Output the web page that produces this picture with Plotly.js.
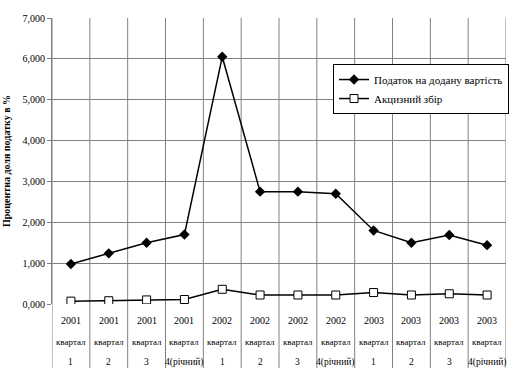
<!DOCTYPE html>
<html>
<head>
<meta charset="utf-8">
<script src="https://cdn.plot.ly/plotly-3.0.1.min.js"></script>
<style>html,body{margin:0;padding:0;background:#fff}#chart{width:524px;height:381px}</style>
</head>
<body>
<div id="chart"></div>
<script>
const years = ["2001","2001","2001","2001","2002","2002","2002","2002","2003","2003","2003","2003"];
const quarterWord = "квартал";
const quarters = ["1","2","3","4(річний)","1","2","3","4(річний)","1","2","3","4(річний)"];
const vat = [0.98, 1.24, 1.50, 1.70, 6.05, 2.75, 2.75, 2.70, 1.80, 1.50, 1.69, 1.44];
const excise = [0.07, 0.08, 0.10, 0.11, 0.36, 0.22, 0.22, 0.22, 0.28, 0.22, 0.25, 0.22];
const seriesNames = ["Податок на додану вартість", "Акцизний збір"];
const yTitle = "Процентна доля податку в %";

const idx = years.map((_, i) => i);
const font = "Times New Roman";
const plotH = 286;
const py = px => -px / plotH;

const traces = [
  {x: idx, y: vat, name: seriesNames[0], type: "scatter", mode: "lines+markers",
   line: {color: "#000", width: 1.5},
   marker: {symbol: "diamond", size: 8, color: "#000"}},
  {x: idx, y: excise, name: seriesNames[1], type: "scatter", mode: "lines+markers",
   line: {color: "#000", width: 1.5},
   marker: {symbol: "square", size: 8, color: "#fff", line: {color: "#000", width: 1}}}
];

const shapes = [];
for (let i = 0; i <= years.length; i++) {
  shapes.push({type: "line", xref: "x", yref: "paper", x0: i - 0.5, x1: i - 0.5,
    y0: py(64), y1: 1, line: {color: "#808080", width: 1}, layer: "below"});
}
const annotations = [];
idx.forEach(i => {
  [[years[i], 16, 10], [quarterWord, 38, 9], [quarters[i], 58, 9.5]].forEach(([t, off, sz]) => {
    annotations.push({x: i, xref: "x", yref: "paper", y: py(off), yanchor: "middle",
      text: t, showarrow: false, font: {family: font, size: sz}});
  });
});

const layout = {
  width: 524, height: 381,
  margin: {l: 52, r: 18, t: 18, b: 77},
  paper_bgcolor: "#fff", plot_bgcolor: "#fff",
  separators: ", ",
  font: {family: font, size: 10, color: "#000"},
  showlegend: true,
  legend: {x: 0.619, y: 0.839, xanchor: "left", yanchor: "top",
    bgcolor: "#fff", bordercolor: "#000", borderwidth: 1, itemwidth: 30,
    font: {family: font, size: 11}, tracegroupgap: 0},
  xaxis: {range: [-0.5, 11.5], showgrid: false, zeroline: false, showticklabels: false,
    showline: false, fixedrange: true},
  yaxis: {range: [0, 7], dtick: 1, tick0: 0, tickformat: ".3f",
    showgrid: true, gridcolor: "#808080", gridwidth: 1, zeroline: false,
    showline: true, linecolor: "#808080", ticks: "outside", ticklen: 4, tickcolor: "#808080",
    tickfont: {family: font, size: 10},
    title: {text: "<b>" + yTitle + "</b>", font: {family: font, size: 10}, standoff: 10}},
  shapes: shapes,
  annotations: annotations
};

Plotly.newPlot("chart", traces, layout, {displayModeBar: false, staticPlot: true});
</script>
</body>
</html>
